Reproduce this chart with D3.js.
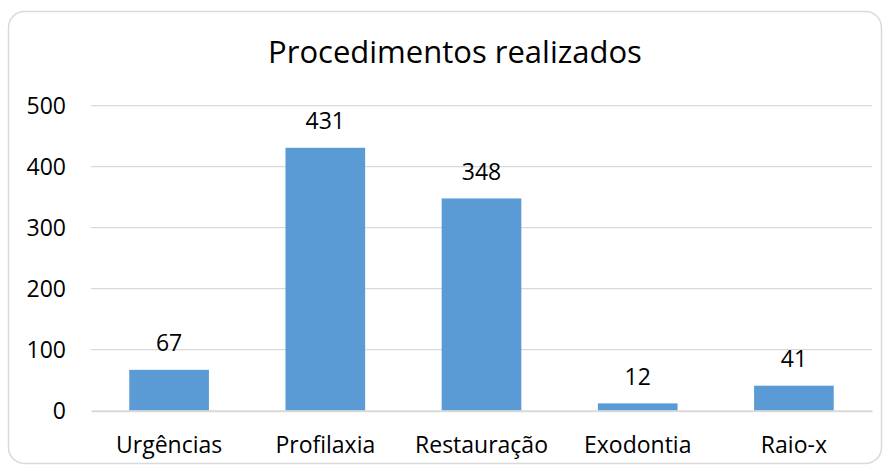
<!DOCTYPE html>
<html>
<head>
<meta charset="utf-8">
<script src="https://d3js.org/d3.v7.min.js"></script>
<style>
body { margin: 0; background: #fff; }
svg { display: block; font-family: 'Open Sans', sans-serif; }
</style>
</head>
<body>
<svg width="887" height="470"></svg>
<script>
var categories = ["Urgências", "Profilaxia", "Restauração", "Exodontia", "Raio-x"];
var values = [67, 431, 348, 12, 41];
var yTicks = [0, 100, 200, 300, 400, 500];

var svg = d3.select("svg");

// chart frame
svg.append("rect")
  .attr("x", 8.5).attr("y", 11.5)
  .attr("width", 873).attr("height", 452)
  .attr("rx", 16)
  .attr("fill", "#fff")
  .attr("stroke", "#d9d9d9")
  .attr("stroke-width", 1.5);

svg.append("text")
  .attr("x", 455).attr("y", 63)
  .attr("text-anchor", "middle")
  .attr("font-size", 31)
  .attr("fill", "#000")
  .text("Procedimentos realizados");

var x = d3.scaleBand().domain(categories).range([91, 872]).paddingInner(0.49).paddingOuter(0.245);
var y = d3.scaleLinear().domain([0, 500]).range([410.7, 105.7]);

// gridlines
svg.append("g").selectAll("line")
  .data(yTicks.slice(1))
  .enter().append("line")
  .attr("x1", 91).attr("x2", 872)
  .attr("y1", function(d) { return y(d); })
  .attr("y2", function(d) { return y(d); })
  .attr("stroke", "#d9d9d9")
  .attr("stroke-width", 1.3);

// y axis labels
var yAxis = svg.append("g")
  .attr("transform", "translate(91,0)")
  .call(d3.axisLeft(y).tickValues(yTicks).tickSize(0).tickPadding(25));
yAxis.select(".domain").remove();
yAxis.selectAll("text").attr("font-size", 23).attr("fill", "#000").attr("font-family", "'Open Sans', sans-serif");

// bars
svg.append("g").selectAll("rect")
  .data(values)
  .enter().append("rect")
  .attr("x", function(d, i) { return x(categories[i]); })
  .attr("width", x.bandwidth())
  .attr("y", function(d) { return y(d); })
  .attr("height", function(d) { return y(0) - y(d); })
  .attr("fill", "#5b9bd5");

// value labels
svg.append("g").selectAll("text")
  .data(values)
  .enter().append("text")
  .attr("x", function(d, i) { return x(categories[i]) + x.bandwidth() / 2; })
  .attr("y", function(d) { return y(d) - 18.5; })
  .attr("text-anchor", "middle")
  .attr("font-size", 23)
  .text(function(d) { return d; });

// x axis
var xAxis = svg.append("g")
  .attr("transform", "translate(0," + y(0) + ")")
  .call(d3.axisBottom(x).tickSize(0).tickPadding(26));
xAxis.select(".domain").attr("stroke", "#d9d9d9").attr("stroke-width", 2);
xAxis.selectAll("text").attr("font-size", 23).attr("fill", "#000").attr("font-family", "'Open Sans', sans-serif");
</script>
</body>
</html>
